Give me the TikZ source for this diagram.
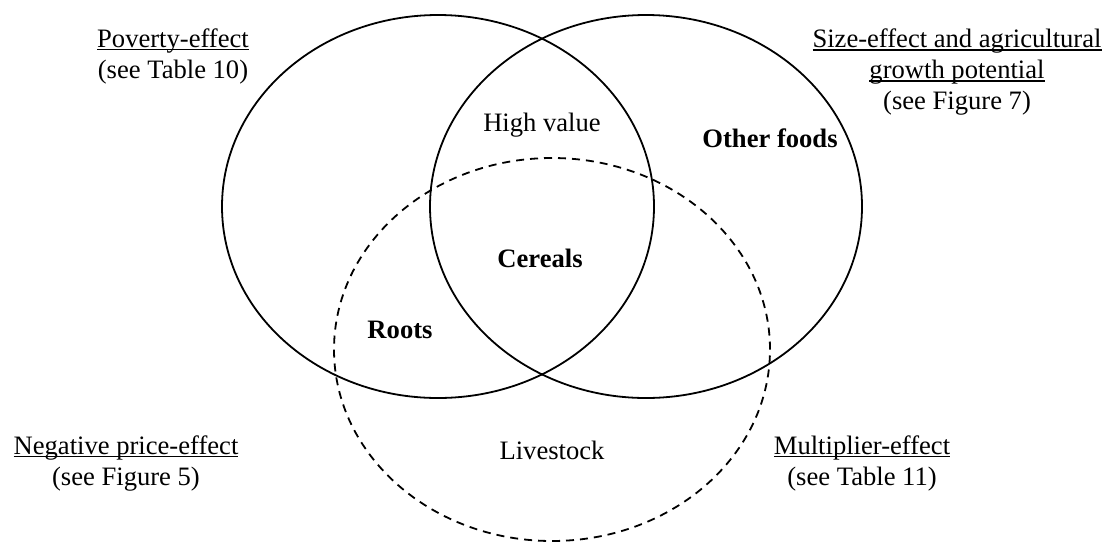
\documentclass[tikz,border=0pt]{standalone}
\usepackage{fontspec}
\setmainfont{Liberation Serif}
\newlength{\efflen}
\newcommand{\efftitle}[1]{\settowidth{\efflen}{#1}\rlap{#1}\rule[-1.7pt]{\efflen}{0.75pt}}
\tikzset{
  vennline/.style={line width=0.9pt},
  vennlinedash/.style={line width=0.9pt,dash pattern=on 4pt off 3pt},
  foodlabel/.style={font=\fontsize{13.3}{15.5}\selectfont,inner sep=0pt},
  effectlabel/.style={font=\fontsize{13.3}{15.5}\selectfont,align=center,inner sep=0pt},
}

\begin{document}
\begin{tikzpicture}[x=0.5pt,y=-0.5pt]
\useasboundingbox (0,0) rectangle (1106,542);

% the three sets
\draw[vennline] (438,206.5) ellipse [x radius=108pt,y radius=95.75pt];
\draw[vennline] (646,206.5) ellipse [x radius=108pt,y radius=95.75pt];
\draw[vennlinedash] (552,349.5) ellipse [x radius=109pt,y radius=95.75pt];

% foods
\node[foodlabel] (highvalue) at (542,125) {High value};
\node[foodlabel] (otherfoods) at (770,138) {\bfseries Other foods};
\node[foodlabel] (cereals) at (540,258) {\bfseries Cereals};
\node[foodlabel] (roots) at (400,330) {\bfseries Roots};
\node[foodlabel] (livestock) at (552,450) {Livestock};

% effects
\node[effectlabel] (poverty) at (173,56) {\efftitle{Poverty-effect}\\(see Table 10)};
\node[effectlabel] (sizeeffect) at (957,72) {\efftitle{Size-effect and agricultural}\\\efftitle{growth potential}\\(see Figure 7)};
\node[effectlabel] (negprice) at (126,463) {\efftitle{Negative price-effect}\\(see Figure 5)};
\node[effectlabel] (multiplier) at (862,463) {\efftitle{Multiplier-effect}\\(see Table 11)};
\end{tikzpicture}
\end{document}
